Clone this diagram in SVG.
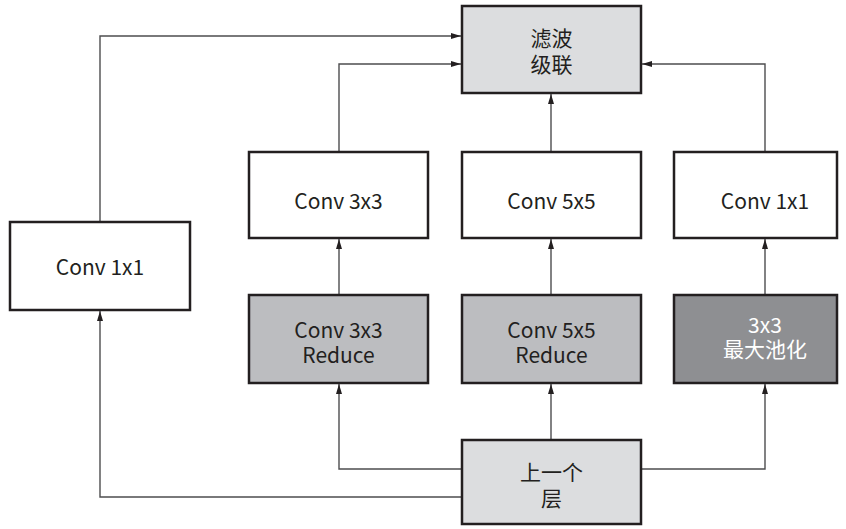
<svg xmlns="http://www.w3.org/2000/svg" width="846" height="529" viewBox="0 0 846 529">
<style>
.box{stroke:#231f20;stroke-width:2.5}
.w{fill:#ffffff}
.l{fill:#dcdddf}
.m{fill:#bcbdc0}
.d{fill:#8e8f92}
text{font-family:"Noto Sans CJK SC","Noto Sans",sans-serif;font-size:21px;fill:#231f20;text-anchor:middle}
.wt{fill:#ffffff}
.c{fill:none;stroke:#4d4d4f;stroke-width:1.4}
</style>
<defs>
<marker id="a" viewBox="0 0 10 6" refX="10" refY="3" markerWidth="10" markerHeight="6" markerUnits="userSpaceOnUse" orient="auto">
<path d="M0,0 L10,3 L0,6 Z" fill="#231f20"/>
</marker>
</defs>
<g id="connectors">
<path class="c" d="M462,497 H100 V311" marker-end="url(#a)"/>
<path class="c" d="M100,222 V36 H461" marker-end="url(#a)"/>
<path class="c" d="M339,152 V64 H461" marker-end="url(#a)"/>
<path class="c" d="M551,152 V94" marker-end="url(#a)"/>
<path class="c" d="M765,152 V64 H642" marker-end="url(#a)"/>
<path class="c" d="M339,295 V239" marker-end="url(#a)"/>
<path class="c" d="M551,295 V239" marker-end="url(#a)"/>
<path class="c" d="M765,295 V239" marker-end="url(#a)"/>
<path class="c" d="M462,469 H339 V384" marker-end="url(#a)"/>
<path class="c" d="M551,440 V384" marker-end="url(#a)"/>
<path class="c" d="M641,469 H765 V384" marker-end="url(#a)"/>
</g>
<g id="concat">
<rect class="box l" x="462" y="6" width="179" height="87"/>
<text x="551.5" y="46">滤波</text>
<text x="551.5" y="72">级联</text>
</g>
<g id="conv1x1-left">
<rect class="box w" x="10" y="222" width="180" height="88"/>
<text x="100" y="275">Conv 1x1</text>
</g>
<g id="conv3x3">
<rect class="box w" x="249" y="152" width="179" height="86"/>
<text x="338.5" y="209">Conv 3x3</text>
</g>
<g id="conv5x5">
<rect class="box w" x="462" y="152" width="179" height="86"/>
<text x="551.5" y="209">Conv 5x5</text>
</g>
<g id="conv1x1-right">
<rect class="box w" x="674" y="152" width="163" height="86"/>
<text x="765" y="209">Conv 1x1</text>
</g>
<g id="conv3x3-reduce">
<rect class="box m" x="249" y="295" width="179" height="88"/>
<text x="338.5" y="338">Conv 3x3</text>
<text x="338.5" y="363">Reduce</text>
</g>
<g id="conv5x5-reduce">
<rect class="box m" x="462" y="295" width="179" height="88"/>
<text x="551.5" y="338">Conv 5x5</text>
<text x="551.5" y="363">Reduce</text>
</g>
<g id="maxpool">
<rect class="box d" x="674" y="295" width="163" height="88"/>
<text class="wt" x="765" y="333">3x3</text>
<text class="wt" x="765" y="357">最大池化</text>
</g>
<g id="prev-layer">
<rect class="box l" x="462" y="440" width="179" height="84"/>
<text x="551.5" y="480">上一个</text>
<text x="551.5" y="506">层</text>
</g>
</svg>
